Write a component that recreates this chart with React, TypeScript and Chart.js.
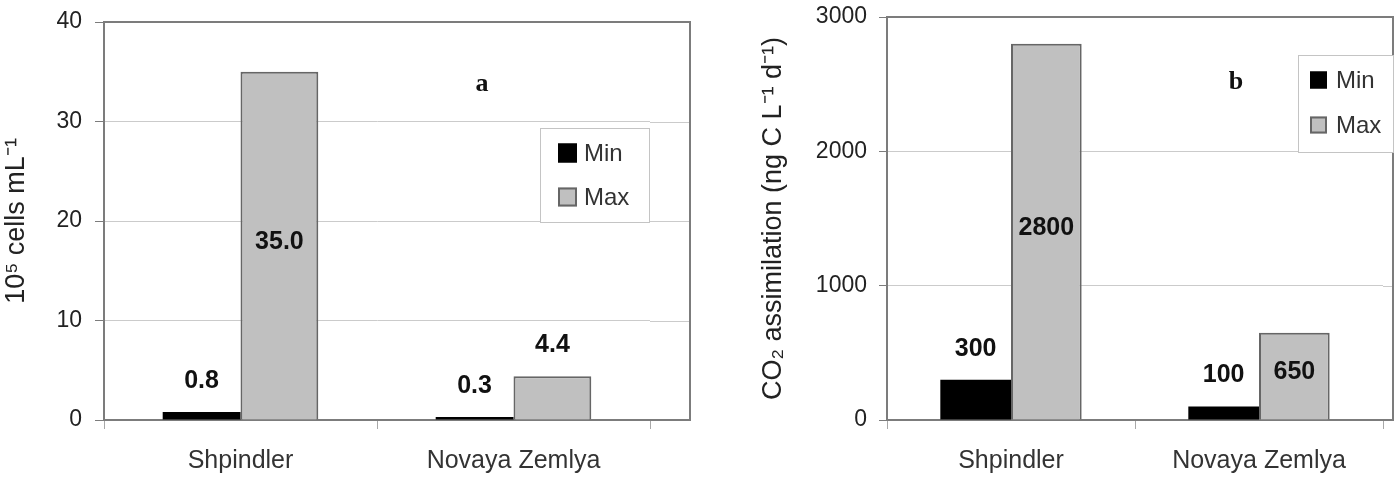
import React, { useEffect, useRef } from 'react';
import { Chart, registerables } from 'chart.js';

Chart.register(...registerables);

// ---------- data ----------
const categories = ['Shpindler', 'Novaya Zemlya'];
const seriesNames = ['Min', 'Max'];
const cellsMin = [0.8, 0.3];
const cellsMax = [35.0, 4.4];
const co2Min = [300, 100];
const co2Max = [2800, 650];
const cellsTicks = [0, 10, 20, 30, 40];
const co2Ticks = [0, 1000, 2000, 3000];
const cellsTitle = '10⁵ cells mL⁻¹';
const co2Title = 'CO₂ assimilation (ng C L⁻¹ d⁻¹)';
const panelA = 'a';
const panelB = 'b';

// ---------- styles ----------
const FONT = '"Liberation Sans", Arial, sans-serif';
const MIN_COLOR = '#000000';
const MAX_COLOR = '#c0c0c0';
const MAX_BORDER = '#666666';
const GRID = '#cbcbcb';
const AXIS = '#7c7c7c';
const TEXT = '#222222';

const framePlugin = {
  id: 'frameExt',
  afterDraw(chart: any, _a: any, o: any) {
    const { ctx, chartArea: a } = chart;
    const ys = chart.scales.y;
    ctx.save();
    ctx.lineWidth = 1;
    ctx.strokeStyle = GRID;
    ys.ticks.forEach((t: any) => {
      const y = Math.round(ys.getPixelForValue(t.value)) + 0.5;
      ctx.beginPath();
      ctx.moveTo(a.right, y);
      ctx.lineTo(o.right, y);
      ctx.stroke();
    });
    ctx.strokeStyle = AXIS;
    ctx.lineWidth = 2;
    ctx.beginPath();
    ctx.moveTo(a.left, a.top);
    ctx.lineTo(o.right, a.top);
    ctx.lineTo(o.right, a.bottom);
    ctx.lineTo(a.right, a.bottom);
    ctx.stroke();
    ctx.restore();
  },
};

const legendPlugin = {
  id: 'boxLegend',
  afterDraw(chart: any, _a: any, o: any) {
    const { ctx } = chart;
    ctx.save();
    ctx.fillStyle = '#ffffff';
    ctx.fillRect(o.x, o.y, o.w, o.h);
    ctx.strokeStyle = '#c4c4c4';
    ctx.lineWidth = 1;
    ctx.strokeRect(o.x + 0.5, o.y + 0.5, o.w, o.h);
    chart.data.datasets.forEach((ds: any, i: number) => {
      const cy = o.rows[i];
      const s = o.size;
      ctx.fillStyle = ds.backgroundColor;
      ctx.fillRect(o.sqX, cy - s / 2, s, s);
      ctx.strokeStyle = ds.borderColor;
      ctx.lineWidth = 2;
      ctx.strokeRect(o.sqX + 1, cy - s / 2 + 1, s - 2, s - 2);
      ctx.fillStyle = '#333';
      ctx.font = `${o.fontSize}px ${FONT}`;
      ctx.textBaseline = 'middle';
      ctx.textAlign = 'left';
      ctx.fillText(ds.label, o.txX, cy + 1);
    });
    ctx.restore();
  },
};

const valuePlugin = {
  id: 'barValues',
  afterDatasetsDraw(chart: any, _a: any, o: any) {
    const { ctx } = chart;
    ctx.save();
    ctx.font = `bold ${o.fontSize}px ${FONT}`;
    ctx.fillStyle = '#111';
    ctx.textAlign = 'center';
    ctx.textBaseline = 'middle';
    chart.data.datasets.forEach((ds: any, di: number) => {
      const meta = chart.getDatasetMeta(di);
      meta.data.forEach((bar: any, i: number) => {
        const v = ds.data[i];
        const place = o.placements[di][i];
        const y = place === 'center' ? (bar.y + bar.base) / 2 - 4 : bar.y - o.above;
        ctx.fillText(o.format(v), bar.x, y);
      });
    });
    ctx.restore();
  },
};

const letterPlugin = {
  id: 'panelLetter',
  afterDraw(chart: any, _a: any, o: any) {
    const { ctx } = chart;
    ctx.save();
    ctx.font = `bold 26px "Liberation Serif", "Times New Roman", serif`;
    ctx.fillStyle = '#111';
    ctx.textAlign = 'center';
    ctx.textBaseline = 'middle';
    ctx.fillText(o.text, o.x, o.y);
    ctx.restore();
  },
};

type PanelCfg = {
  minData: number[];
  maxData: number[];
  ticks: number[];
  title: string;
  titlePad: number;
  letter: string;
  letterPos: [number, number];
  yWidth: number;
  top: number;
  rightPad: number;
  extRight: number;
  legend: any;
  placements: string[][];
  format: (v: number) => string;
  tickPad: number;
  tickLen: number;
};

function buildConfig(c: PanelCfg): any {
  return {
    type: 'bar',
    data: {
      labels: categories,
      datasets: [
        {
          label: seriesNames[0],
          data: c.minData,
          backgroundColor: MIN_COLOR,
          borderColor: MIN_COLOR,
          borderWidth: 0,
          categoryPercentage: 0.57,
          barPercentage: 1.0,
        },
        {
          label: seriesNames[1],
          data: c.maxData,
          backgroundColor: MAX_COLOR,
          borderColor: MAX_BORDER,
          borderWidth: 2,
          categoryPercentage: 0.57,
          barPercentage: 1.0,
        },
      ],
    },
    options: {
      animation: false,
      responsive: false,
      layout: { padding: { left: 0, top: c.top, right: c.rightPad, bottom: 0 } },
      plugins: {
        legend: { display: false },
        tooltip: { enabled: false },
        frameExt: { right: c.extRight },
        boxLegend: c.legend,
        barValues: { placements: c.placements, format: c.format, fontSize: 25, above: 31 },
        panelLetter: { text: c.letter, x: c.letterPos[0], y: c.letterPos[1] },
      },
      scales: {
        x: {
          type: 'category',
          offset: true,
          grid: { drawOnChartArea: false, drawTicks: true, tickLength: 9, tickColor: '#a8a8a8', offset: true },
          border: { color: AXIS, width: 2 },
          ticks: { color: '#333', font: { family: FONT, size: 25 }, padding: 17 },
          afterFit: (s: any) => {
            s.height = 58;
            s.paddingLeft = 0;
            s.paddingRight = 0;
          },
        },
        y: {
          min: c.ticks[0],
          max: c.ticks[c.ticks.length - 1],
          afterBuildTicks: (s: any) => {
            s.ticks = c.ticks.map((v) => ({ value: v }));
          },
          grid: { color: GRID, tickColor: AXIS, tickLength: c.tickLen, drawTicks: true },
          border: { color: AXIS, width: 2 },
          ticks: {
            color: TEXT,
            font: { family: FONT, size: 23 },
            padding: c.tickPad,
            callback: (v: any) => String(v),
          },
          title: {
            display: true,
            text: c.title,
            color: TEXT,
            font: { family: FONT, size: 27 },
            padding: { top: c.titlePad, bottom: 0 },
          },
          afterFit: (s: any) => {
            s.width = c.yWidth;
            s.paddingTop = 0;
            s.paddingBottom = 0;
          },
        },
      },
    },
    plugins: [framePlugin, valuePlugin, legendPlugin, letterPlugin],
  };
}

const leftCfg: PanelCfg = {
  minData: cellsMin,
  maxData: cellsMax,
  ticks: cellsTicks,
  title: cellsTitle,
  titlePad: 0,
  letter: panelA,
  letterPos: [482, 84],
  yWidth: 104,
  top: 22,
  rightPad: 50,
  extRight: 690,
  legend: { x: 540, y: 128, w: 109, h: 94, sqX: 558, size: 19, rows: [153, 197], txX: 584, fontSize: 24 },
  placements: [
    ['above', 'above'],
    ['center', 'above'],
  ],
  format: (v) => v.toFixed(1),
  tickPad: 13,
  tickLen: 9,
};

const rightCfg: PanelCfg = {
  minData: co2Min,
  maxData: co2Max,
  ticks: co2Ticks,
  title: co2Title,
  titlePad: 7,
  letter: panelB,
  letterPos: [486, 82],
  yWidth: 137,
  top: 17,
  rightPad: 17,
  extRight: 643,
  legend: { x: 548, y: 55, w: 95, h: 97, sqX: 560, size: 17, rows: [80, 125], txX: 586, fontSize: 24 },
  placements: [
    ['above', 'above'],
    ['center', 'center'],
  ],
  format: (v) => String(v),
  tickPad: 12,
  tickLen: 8,
};

function Panel({ cfg, left, width }: { cfg: PanelCfg; left: number; width: number }) {
  const ref = useRef<HTMLCanvasElement>(null);
  useEffect(() => {
    if (!ref.current) return;
    const chart = new Chart(ref.current, buildConfig(cfg));
    return () => chart.destroy();
  }, [cfg]);
  return (
    <canvas
      ref={ref}
      width={width}
      height={478}
      style={{ position: 'absolute', left, top: 0, width, height: 478 }}
    />
  );
}

export default function App() {
  return (
    <div style={{ position: 'absolute', left: 0, top: 0, width: 1400, height: 478, background: '#fff' }}>
      <Panel cfg={leftCfg} left={0} width={700} />
      <Panel cfg={rightCfg} left={750} width={650} />
    </div>
  );
}
